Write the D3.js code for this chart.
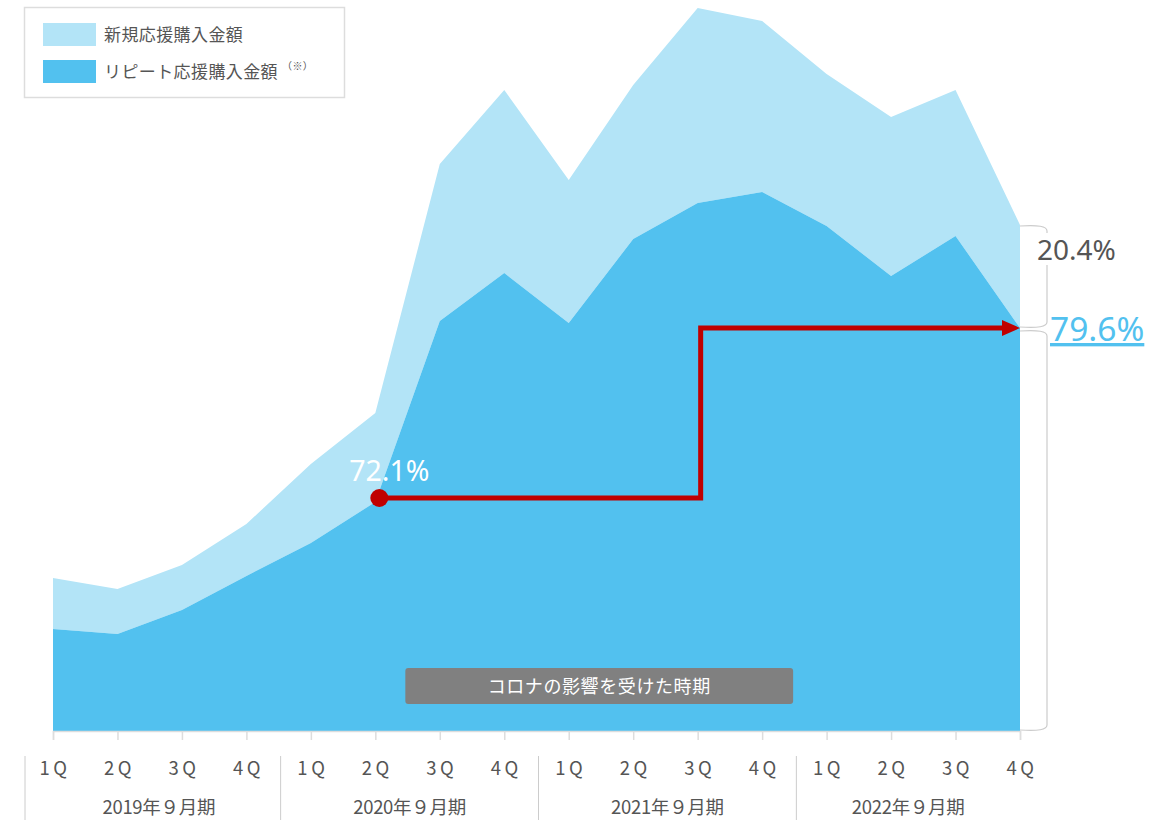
<!DOCTYPE html>
<html><head><meta charset="utf-8">
<script src="https://cdn.jsdelivr.net/npm/d3@7"></script>
<style>
body{margin:0;background:#fff;font-family:"Noto Sans CJK JP","Noto Sans",sans-serif;}
svg{display:block}
</style></head>
<body>
<svg id="c" width="1166" height="820"></svg>
<script>
// ---- data ----
const quarters = ["1Q","2Q","3Q","4Q","1Q","2Q","3Q","4Q","1Q","2Q","3Q","4Q","1Q","2Q","3Q","4Q"];
const fiscalYears = ["2019年９月期","2020年９月期","2021年９月期","2022年９月期"];
const repeatValues = [102, 97, 121, 155, 188, 229, 410, 458, 408, 492, 528, 539, 505, 455, 495, 403];
const newValues    = [51, 45, 45, 52, 79, 89, 157, 183, 143, 154, 195, 171, 152, 159, 146, 103];
const seriesNames = ["新規応援購入金額","リピート応援購入金額"];
const startShare = "72.1%";
const endRepeatShare = "79.6%";
const endNewShare = "20.4%";
const coronaLabel = "コロナの影響を受けた時期";

const svg = d3.select("#c");
const lightC = "#b3e4f7", darkC = "#52c1ef", red = "#c00000", grey = "#555";

const x = d3.scaleLinear().domain([0, quarters.length - 1]).range([53, 1020]);
const y = d3.scaleLinear().domain([0, 723]).range([731, 8]);

const rows = quarters.map((q, i) => ({i, repeat: repeatValues[i], new: newValues[i]}));
const stacked = d3.stack().keys(["repeat","new"])(rows);

const area = d3.area().x(d => x(d.data.i)).y0(d => y(d[0])).y1(d => y(d[1]));
svg.append("path").attr("d", area(stacked[1])).attr("fill", lightC);
svg.append("path").attr("d", area(stacked[0])).attr("fill", darkC);

// axis
const axisG = svg.append("g").attr("transform", `translate(0,${y(0)})`);
axisG.call(d3.axisBottom(x).tickValues(d3.range(quarters.length)).tickSize(9).tickFormat(""));
axisG.select(".domain").attr("stroke", "#ddd").attr("stroke-width", 1.5);
axisG.selectAll(".tick line").attr("stroke", "#ddd").attr("stroke-width", 1.5);

svg.append("g").selectAll("text").data(quarters).join("text")
  .attr("x", (d, i) => x(i) + 2).attr("y", 775)
  .attr("text-anchor", "middle").attr("font-size", 18.5).attr("fill", grey)
  .attr("letter-spacing", 3.5).text(d => d);

const seps = [x(0) - 28, ...[1,2,3].map(k => (x(k*4 - 1) + x(k*4)) / 2 + 2)];
svg.append("g").selectAll("line").data(seps).join("line")
  .attr("x1", d => d).attr("x2", d => d).attr("y1", 756).attr("y2", 820)
  .attr("stroke", "#ccc").attr("stroke-width", 1);

const yearCenters = fiscalYears.map((f, k) => {
  const l = seps[k];
  const r = k < 3 ? seps[k+1] : x(quarters.length - 1);
  return k === 0 ? (l + r) / 2 + 6 : (l + r) / 2;
});
svg.append("g").selectAll("text").data(fiscalYears).join("text")
  .attr("x", (d, k) => yearCenters[k]).attr("y", 814)
  .attr("text-anchor", "middle").attr("font-size", 18.5).attr("fill", grey)
  .attr("letter-spacing", -0.3).text(d => d);

// corona box
const bx0 = x(5) + 30, bx1 = x(11) + 31;
svg.append("rect").attr("x", bx0).attr("y", 668).attr("width", bx1 - bx0).attr("height", 36)
  .attr("rx", 3).attr("fill", "#808080");
svg.append("text").attr("x", (bx0 + bx1) / 2).attr("y", 693).attr("text-anchor", "middle")
  .attr("font-size", 18).attr("letter-spacing", 0.6).attr("fill", "#fff").text(coronaLabel);

// red arrow path
const pStart = [x(5) + 4, y(repeatValues[5]) - 4];
const pEndY = y(repeatValues[15]);
const midX = x(10) + 3;
svg.append("path")
  .attr("d", `M${pStart[0]},${pStart[1]} H${midX} V${pEndY} H${x(15) - 14}`)
  .attr("fill", "none").attr("stroke", red).attr("stroke-width", 5).attr("stroke-linejoin", "miter");
svg.append("path")
  .attr("d", `M${x(15)},${pEndY} L${x(15) - 18},${pEndY - 8} L${x(15) - 18},${pEndY + 8} Z`)
  .attr("fill", red);
svg.append("circle").attr("cx", pStart[0]).attr("cy", pStart[1]).attr("r", 9).attr("fill", red);
svg.append("text").attr("x", pStart[0] + 10).attr("y", 481).attr("text-anchor", "middle")
  .attr("font-size", 28.5).attr("fill", "#fff").attr("font-family", "'Noto Sans',sans-serif").text(startShare);

// right brackets
const bxR = x(15), bxO = bxR + 27, r = 6;
const topY = y(repeatValues[15] + newValues[15]), midY = y(repeatValues[15]), botY = y(0);
function bracket(a, b) {
  return `M${bxR},${a + 1} Q${bxO},${a - 1} ${bxO},${a + r} V${b - r} Q${bxO},${b + 1} ${bxR},${b - 1}`;
}
svg.append("path").attr("d", bracket(topY, midY)).attr("fill", "none").attr("stroke", "#ccc").attr("stroke-width", 1.2);
svg.append("path").attr("d", bracket(midY + 2, botY)).attr("fill", "none").attr("stroke", "#ccc").attr("stroke-width", 1.2);

svg.append("rect").attr("x", 1036).attr("y", 233).attr("width", 82).attr("height", 32).attr("fill", "#fff");
svg.append("text").attr("x", 1037).attr("y", 260).attr("font-size", 28).attr("fill", grey)
  .attr("font-family", "'Noto Sans',sans-serif").text(endNewShare);
svg.append("text").attr("x", 1050).attr("y", 341).attr("font-size", 33.5).attr("fill", darkC)
  .attr("text-decoration", "underline").attr("font-family", "'Noto Sans',sans-serif").text(endRepeatShare);

// legend
const lg = svg.append("g");
lg.append("rect").attr("x", 24.5).attr("y", 7.5).attr("width", 320).attr("height", 90)
  .attr("fill", "#fff").attr("stroke", "#ddd").attr("stroke-width", 1.5);
[lightC, darkC].forEach((c, k) => {
  lg.append("rect").attr("x", 43).attr("y", 23 + k * 37).attr("width", 53).attr("height", 23).attr("fill", c);
  const t = lg.append("text").attr("x", 104).attr("y", 41 + k * 37).attr("font-size", 17).attr("fill", grey)
    .attr("letter-spacing", 0.4).text(seriesNames[k]);
  if (k === 1) t.append("tspan").attr("font-size", 10).attr("dy", -8).attr("dx", 4).text("（※）");
});
</script>
</body></html>
